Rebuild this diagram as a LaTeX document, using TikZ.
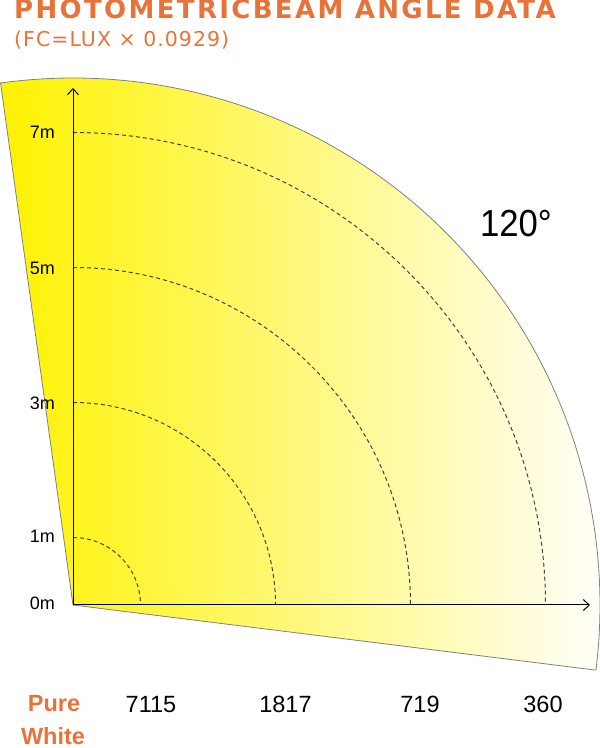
\documentclass[tikz,border=0pt]{standalone}
\usepackage{fontspec}
\usepackage{graphicx}
\setmainfont{Liberation Sans}
\newfontfamily\titlefont[LetterSpace=9]{DejaVu Sans}
\newfontfamily\subfont[LetterSpace=5]{DejaVu Sans}
\usetikzlibrary{arrows.meta,calc}
\definecolor{orangetxt}{RGB}{232,115,58}
\definecolor{beamyellow}{RGB}{255,242,0}
\definecolor{dashgray}{RGB}{68,68,68}
\newcommand\narrow[2]{\scalebox{#1}[1]{#2}}
\tikzset{
  axisline/.style={line width=1pt, black, -{Straight Barb[length=6pt,width=11pt]}},
  rangearc/.style={dashgray, line width=1pt, dash pattern=on 4pt off 3pt},
  axislabel/.style={anchor=east, inner sep=0pt, font=\fontsize{18}{20}\selectfont},
  lumlabel/.style={anchor=base, inner sep=0pt, font=\fontsize{23.5}{26}\selectfont},
  colorlabel/.style={anchor=base, inner sep=0pt, text=orangetxt, font=\fontsize{23.5}{26}\selectfont\bfseries},
}
\begin{document}
\begin{tikzpicture}[x=1pt,y=1pt]
\useasboundingbox (0,0) rectangle (600,748);
\coordinate (O) at (73,143);
\coordinate (ytip) at (73,660);
\coordinate (xtip) at (590,143);
% beam sector
\path[left color=beamyellow, right color=white]
  (O) -- ++(97.9:527) arc[start angle=97.9, end angle=-7.1, radius=527] -- cycle;
\draw[gray, line width=0.8pt]
  (O) -- ++(97.9:527) arc[start angle=97.9, end angle=-7.1, radius=527] -- cycle;
% range arcs
\foreach \r in {67.5,202.5,337.5,472.5}{
  \draw[rangearc] ($(O)+(0,\r)$) arc[start angle=90, end angle=0, radius=\r];
}
% axes
\draw[axisline] (O) -- (ytip);
\draw[axisline] (O) -- (xtip);
% axis labels
\node[axislabel] (l7) at (55,616) {7m};
\node[axislabel] (l5) at (55,480) {5m};
\node[axislabel] (l3) at (55,345) {3m};
\node[axislabel] (l1) at (55,212) {1m};
\node[axislabel] (l0) at (55,144.5) {0m};
% angle label
\node[anchor=base, inner sep=0pt, font=\fontsize{37.7}{40}\selectfont] (ang) at (516,511) {\narrow{0.92}{120°}};
% titles
\node[anchor=base west, inner sep=0pt, text=orangetxt, font=\titlefont\bfseries\fontsize{26}{30}\selectfont] (title) at (14,729) {PHOTOMETRICBEAM ANGLE DATA};
\node[anchor=base west, inner sep=0pt, text=orangetxt, font=\subfont\fontsize{20.5}{24}\selectfont] (sub) at (14,701) {(FC=LUX × 0.0929)};
% bottom values
\node[colorlabel] (pure) at (54,36) {Pure};
\node[colorlabel] (white) at (53,3.5) {White};
\node[lumlabel] (v1) at (151,35) {7115};
\node[lumlabel] (v2) at (285.5,35) {1817};
\node[lumlabel] (v3) at (420,35) {719};
\node[lumlabel] (v4) at (543,35) {360};
\end{tikzpicture}
\end{document}
